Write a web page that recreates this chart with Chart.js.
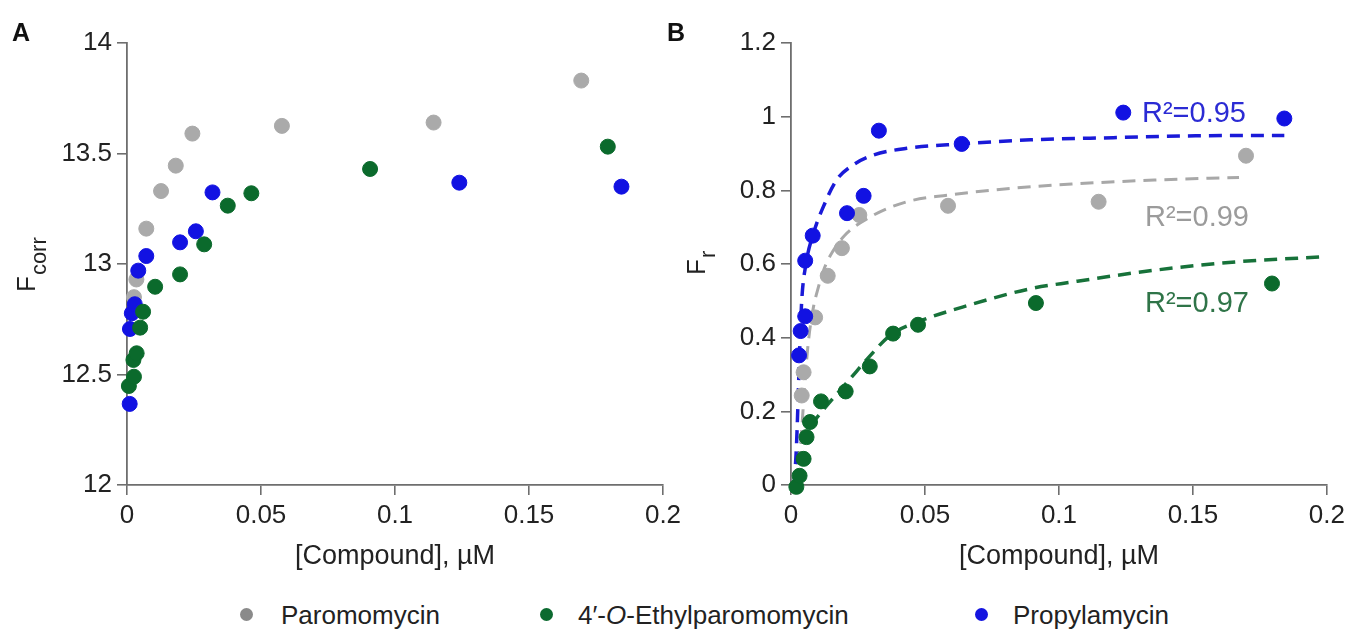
<!DOCTYPE html>
<html><head><meta charset="utf-8">
<script src="https://cdn.jsdelivr.net/npm/chart.js@4"></script>
<style>
html,body{margin:0;padding:0;background:#fff;width:1350px;height:641px;overflow:hidden;font-family:"Liberation Sans",Arial,sans-serif;}
#cA{position:absolute;left:0;top:0;}
#cB{position:absolute;left:660px;top:0;}
.leg{position:absolute;top:598px;font-size:26px;color:#222;line-height:34px;white-space:nowrap;}
.dot{position:absolute;top:608px;width:13px;height:13px;border-radius:50%;}
</style></head>
<body>
<canvas id="cA" width="700" height="580"></canvas>
<canvas id="cB" width="690" height="580"></canvas>
<div id="legend"></div>
<script>
// ---------- tick definitions ----------
const xTicks = [0, 0.05, 0.1, 0.15, 0.2];
const xTickLabels = ['0', '0.05', '0.1', '0.15', '0.2'];
const yTicksA = [12, 12.5, 13, 13.5, 14];
const yTickLabelsA = ['12', '12.5', '13', '13.5', '14'];
const yTicksB = [0, 0.2, 0.4, 0.6, 0.8, 1, 1.2];
const yTickLabelsB = ['0', '0.2', '0.4', '0.6', '0.8', '1', '1.2'];

// ---------- series names ----------
const seriesNames = ['Paromomycin', '4\u2032-O-Ethylparomomycin', 'Propylamycin'];

// ---------- Panel A: F_corr ----------
const paroA_x = [0.0026, 0.0035, 0.0072, 0.0127, 0.0182, 0.0244, 0.0578, 0.1144, 0.1695];
const paroA_y = [12.85, 12.93, 13.16, 13.33, 13.445, 13.59, 13.625, 13.64, 13.83];
const ethylA_x = [0.0007, 0.0026, 0.0024, 0.0036, 0.0049, 0.006, 0.0105, 0.0198, 0.0288, 0.0376, 0.0464, 0.0907, 0.1794];
const ethylA_y = [12.448, 12.49, 12.566, 12.596, 12.712, 12.784, 12.897, 12.953, 13.089, 13.264, 13.32, 13.43, 13.531];
const propA_x = [0.001, 0.0011, 0.0018, 0.0029, 0.0042, 0.0072, 0.0198, 0.0257, 0.0319, 0.124, 0.1845];
const propA_y = [12.367, 12.706, 12.777, 12.818, 12.97, 13.036, 13.098, 13.148, 13.324, 13.368, 13.35];

// ---------- Panel B: F_r ----------
const paroB_x = [0.004, 0.0047, 0.009, 0.0137, 0.019, 0.0255, 0.0586, 0.1148, 0.1698];
const paroB_y = [0.243, 0.306, 0.455, 0.568, 0.643, 0.733, 0.758, 0.769, 0.894];
const ethylB_x = [0.002, 0.0032, 0.0047, 0.0058, 0.0071, 0.0112, 0.0204, 0.0294, 0.0381, 0.0474, 0.0914, 0.1795];
const ethylB_y = [-0.005, 0.025, 0.071, 0.130, 0.171, 0.227, 0.254, 0.322, 0.411, 0.435, 0.494, 0.547];
const propB_x = [0.003, 0.0036, 0.0053, 0.0053, 0.0081, 0.0209, 0.0271, 0.0328, 0.0637, 0.124, 0.1841];
const propB_y = [0.352, 0.418, 0.458, 0.609, 0.677, 0.738, 0.785, 0.962, 0.926, 1.011, 0.995];

// ---------- Panel B: fitted curves ----------
const fitPropB_x = [0.0012, 0.002, 0.0026, 0.0032, 0.004, 0.0055, 0.0086, 0.0124, 0.017, 0.0232, 0.0309, 0.0432, 0.0637, 0.0894, 0.1202, 0.151, 0.1841];
const fitPropB_y = [0, 0.1, 0.22, 0.36, 0.5, 0.597, 0.688, 0.761, 0.828, 0.869, 0.896, 0.914, 0.926, 0.937, 0.943, 0.948, 0.949];
const fitParoB_x = [0.0025, 0.004, 0.0052, 0.0065, 0.0083, 0.0101, 0.0124, 0.0155, 0.0201, 0.0309, 0.0432, 0.0586, 0.0817, 0.1048, 0.1356, 0.1672];
const fitParoB_y = [0, 0.15, 0.28, 0.39, 0.48, 0.534, 0.588, 0.633, 0.678, 0.733, 0.769, 0.787, 0.805, 0.817, 0.828, 0.835];
const fitEthylB_x = [0.001, 0.004, 0.0071, 0.0124, 0.0217, 0.0294, 0.0371, 0.0474, 0.0663, 0.0894, 0.1048, 0.1356, 0.1664, 0.2];
const fitEthylB_y = [0, 0.118, 0.158, 0.207, 0.285, 0.35, 0.407, 0.443, 0.488, 0.533, 0.551, 0.583, 0.606, 0.62];

const r2Labels = ['R\u00B2=0.95', 'R\u00B2=0.99', 'R\u00B2=0.97'];

// ---------- styling ----------
const FONT = '"Liberation Sans", Arial, Helvetica, sans-serif';
const C_GRAY = '#aaaaaa', C_GREEN = '#0b6a2c', C_BLUE = '#1212e2';
const AXIS = '#6e6e6e';

const zip = (xs, ys) => xs.map((x, i) => ({x: x, y: ys[i]}));

function pts(label, xs, ys, color, order) {
  return {label, data: zip(xs, ys), backgroundColor: color, borderColor: color,
    pointRadius: 7.5, pointBorderWidth: 1, showLine: false, order, clip: false};
}
function fit(label, xs, ys, color, width, order) {
  return {label, data: zip(xs, ys), borderColor: color, backgroundColor: color,
    showLine: true, pointRadius: 0, borderWidth: width, borderDash: [13, 8],
    cubicInterpolationMode: 'monotone', fill: false, order, clip: false};
}

const textPlugin = {
  id: 'panelText',
  afterDraw(chart, args, o) {
    const ctx = chart.ctx;
    ctx.save();
    ctx.textBaseline = 'alphabetic';
    ctx.textAlign = 'left';
    ctx.fillStyle = '#111';
    ctx.font = 'bold 25px ' + FONT;
    ctx.fillText(o.letter, o.letterX, 41);
    ctx.save();
    ctx.translate(o.titleX, o.titleY);
    ctx.rotate(-Math.PI / 2);
    ctx.fillStyle = '#222';
    ctx.font = '26px ' + FONT;
    ctx.fillText(o.main, 0, 0);
    const w = ctx.measureText(o.main).width;
    ctx.font = '22px ' + FONT;
    ctx.fillText(o.sub, w + 1, o.subShift);
    ctx.restore();
    (o.notes || []).forEach(n => {
      ctx.font = '29px ' + FONT;
      ctx.fillStyle = n.color;
      ctx.fillText(n.text, n.x, n.y);
    });
    ctx.restore();
  }
};

function axisCommon(min, max, ticks, labels, fixed, horizontal) {
  return {
    type: 'linear', min, max,
    afterBuildTicks: s => { s.ticks = ticks.map(v => ({value: v})); },
    afterFit: s => { if (horizontal) s.height = fixed; else s.width = fixed; },
    ticks: {
      callback: (v, i) => labels[i],
      font: {family: FONT, size: 26}, color: '#222', padding: 5, autoSkip: false, maxRotation: 0
    },
    grid: {drawOnChartArea: false, drawTicks: true, tickLength: 10, color: AXIS, lineWidth: 1.6},
    border: {display: true, color: AXIS, width: 1.8}
  };
}

function makeChart(id, datasets, yMin, yMax, yT, yL, yWidth, padRight, textOpts) {
  const xAxis = axisCommon(0, 0.2, xTicks, xTickLabels, 95, true);
  xAxis.title = {display: true, text: '[Compound], \u00B5M', color: '#222',
    font: {family: FONT, size: 27}, padding: {top: 0, bottom: 7}};
  return new Chart(document.getElementById(id), {
    type: 'scatter',
    data: {datasets},
    options: {
      responsive: false, animation: false, devicePixelRatio: 1, events: [],
      layout: {padding: {left: 0, top: 43, right: padRight, bottom: 0}},
      scales: {x: xAxis, y: axisCommon(yMin, yMax, yT, yL, yWidth, false)},
      plugins: {legend: {display: false}, tooltip: {enabled: false}, panelText: textOpts}
    },
    plugins: [textPlugin]
  });
}

makeChart('cA', [
  pts(seriesNames[1], ethylA_x, ethylA_y, C_GREEN, 1),
  pts(seriesNames[2], propA_x, propA_y, C_BLUE, 2),
  pts(seriesNames[0], paroA_x, paroA_y, C_GRAY, 3)
], 12, 14, yTicksA, yTickLabelsA, 127, 37,
  {letter: 'A', letterX: 12, titleX: 35, titleY: 292, main: 'F', sub: 'corr', subShift: 11});

makeChart('cB', [
  pts(seriesNames[1], ethylB_x, ethylB_y, C_GREEN, 1),
  pts(seriesNames[2], propB_x, propB_y, C_BLUE, 2),
  pts(seriesNames[0], paroB_x, paroB_y, C_GRAY, 3),
  fit('fit ' + seriesNames[2], fitPropB_x, fitPropB_y, '#1a1ad8', 3.5, 4),
  fit('fit ' + seriesNames[0], fitParoB_x, fitParoB_y, '#a8a8a8', 3, 5),
  fit('fit ' + seriesNames[1], fitEthylB_x, fitEthylB_y, '#17723a', 3.5, 6)
], 0, 1.2, yTicksB, yTickLabelsB, 131, 20,
  {letter: 'B', letterX: 7, titleX: 45, titleY: 275, main: 'F', sub: 'r', subShift: 10,
   notes: [
     {text: r2Labels[0], x: 482, y: 122, color: '#2b2bd4'},
     {text: r2Labels[1], x: 485, y: 226, color: '#9b9b9b'},
     {text: r2Labels[2], x: 485, y: 312, color: '#2f7448'}
   ]});

// ---------- legend (HTML) ----------
const legendColors = ['#8a8a8a', '#0c6a30', '#1515e0'];
const legendDotX = [240, 540, 975];
const legendTextX = [281, 578, 1013];
const leg = document.getElementById('legend');
seriesNames.forEach((name, i) => {
  const d = document.createElement('div');
  d.className = 'dot';
  d.style.left = legendDotX[i] + 'px';
  d.style.background = legendColors[i];
  leg.appendChild(d);
  const t = document.createElement('div');
  t.className = 'leg';
  t.style.left = legendTextX[i] + 'px';
  if (name.indexOf('-O-') >= 0) {
    const parts = name.split('-O-');
    t.innerHTML = parts[0] + '-<i>O</i>-' + parts[1];
  } else {
    t.textContent = name;
  }
  leg.appendChild(t);
});
</script>
</body></html>
